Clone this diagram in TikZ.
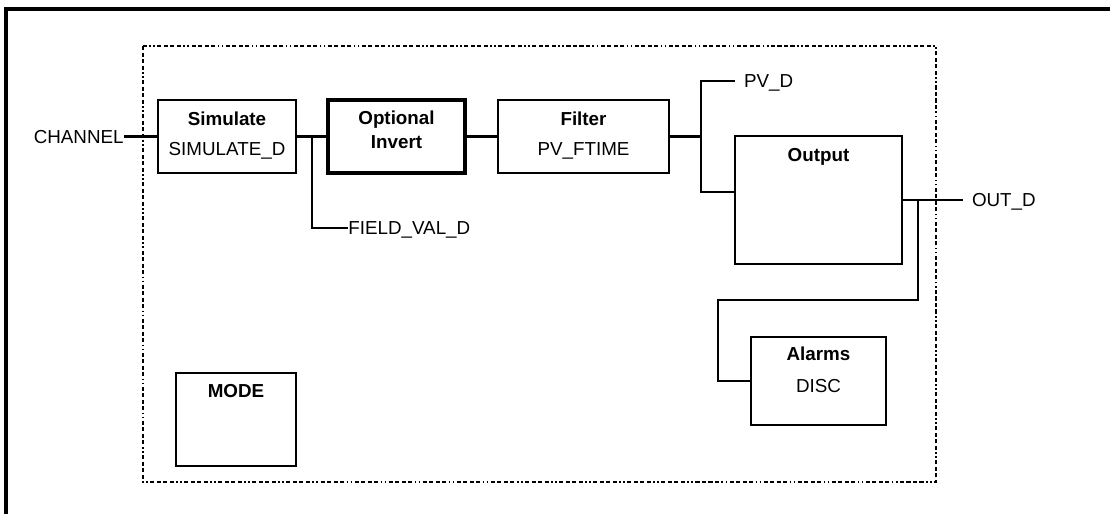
\documentclass[tikz,border=0pt]{standalone}
\usepackage{fontspec}
\setmainfont{Liberation Sans}
\usepackage{tikz}
\usetikzlibrary{calc, positioning}

\begin{document}
\begin{tikzpicture}[x=0.02cm, y=-0.02cm,
    blk/.style={draw, line width=1.5pt, inner sep=0pt},
    ttl/.style={anchor=base, font=\fontsize{10.7}{12}\selectfont\bfseries},
    txt/.style={anchor=base, font=\fontsize{10.7}{12}\selectfont},
    lbl/.style={inner sep=0pt, text depth=0pt, font=\fontsize{10.7}{12}\selectfont},
    wire/.style={line width=1.4pt}]
    \useasboundingbox (0,0) rectangle (1110,514);

    % frame
    \draw[line width=2.2pt] (6,530) -- (6,9) -- (1120,9);

    % block boundary
    \draw[line width=1.7pt, dash pattern=on 2.3pt off 1.4pt on 2.3pt off 1.4pt on 2.3pt off 1.4pt on 2.3pt off 1.4pt on 0.9pt off 1.4pt on 0.9pt off 1.4pt]
        (143,46) rectangle (936,482);

    % blocks
    \node[blk, minimum width=2.76cm, minimum height=1.46cm] (sim) at (227,136.5) {};
    \node[blk, line width=2.1pt, minimum width=2.74cm, minimum height=1.46cm] (inv) at (396.5,136.5) {};
    \node[blk, minimum width=3.42cm, minimum height=1.46cm] (filt) at (583.5,136.5) {};
    \node[blk, minimum width=3.34cm, minimum height=2.56cm] (out) at (818.5,200) {};
    \node[blk, minimum width=2.70cm, minimum height=1.76cm] (alm) at (818.5,381) {};
    \node[blk, minimum width=2.40cm, minimum height=1.86cm] (mode) at (236,419.5) {};

    % block texts
    \node[ttl] (simt) at ($(sim.north)+(0,27)$) {Simulate};
    \node[txt] (simv) at ($(simt.base)+(0,30)$) {SIMULATE\_D};
    \node[ttl] (invt) at ($(inv.north)+(0,26)$) {Optional};
    \node[ttl] (invu) at ($(invt.base)+(0,24)$) {Invert};
    \node[ttl] (filtt) at ($(filt.north)+(0,27)$) {Filter};
    \node[txt] (filtv) at ($(filtt.base)+(0,30)$) {PV\_FTIME};
    \node[ttl] (outt) at ($(out.north)+(0,27)$) {Output};
    \node[ttl] (almt) at ($(alm.north)+(0,25)$) {Alarms};
    \node[txt] (almv) at ($(almt.base)+(0,32)$) {DISC};
    \node[ttl] (modet) at ($(mode.north)+(0,26)$) {MODE};

    % parameters
    \node[lbl, anchor=east] (chan) at (124,136.5) {CHANNEL};
    \node[lbl, anchor=west] (fvd) at (348,228) {FIELD\_VAL\_D};
    \node[lbl, anchor=west, outer xsep=0.18cm] (pvd) at (735,81) {PV\_D};
    \node[lbl, anchor=west, outer xsep=0.18cm] (outd) at (963,200) {OUT\_D};

    % taps
    \coordinate (fv) at (312,136.5);
    \coordinate (pv) at (701,136.5);
    \coordinate (oin) at (735,192);
    \coordinate (ab) at (918,200);
    \coordinate (bend) at (718,300);

    % signal path
    \draw[wire] (chan.east) -- (sim.west);
    \draw[wire] (sim.east) -- (inv.west);
    \draw[wire] (inv.east) -- (filt.west);
    \draw[wire] (fv) |- (fvd.west);
    \draw[wire] (filt.east) -- (pv);
    \draw[wire] (pvd.west) -| (pv) |- (oin);
    \draw[wire] (out.east) -- (outd.west);
    \draw[wire] (ab) |- (bend) |- (alm.west);
\end{tikzpicture}
\end{document}
